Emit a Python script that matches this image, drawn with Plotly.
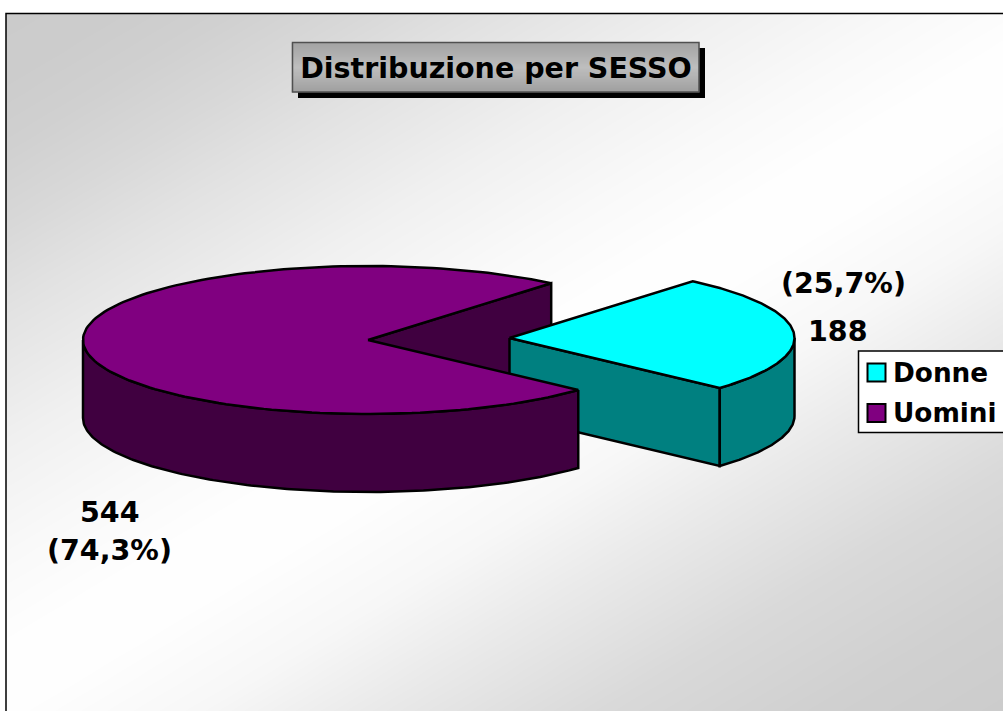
import numpy as np
import plotly.graph_objects as go

# ---- data ----
categories = ["Donne", "Uomini"]
values = [188, 544]
value_labels = ["188", "544"]
percent_labels = ["(25,7%)", "(74,3%)"]
title_text = "Distribuzione per SESSO"

# ---- style / layout constants (pixel-like axes) ----
W, H = 1003, 711
FONT = "DejaVu Sans"
RX, RY, DEPTH = 285, 74, 78
ROTATION = 40.0
CENTERS = {"Donne": (509.5, 338), "Uomini": (368, 340)}
TOPS = {"Donne": "#00FFFF", "Uomini": "#800080"}
SIDES = {"Donne": "#008080", "Uomini": "#400040"}
EDGE = 2.5

total = sum(values)
sweep = values[0] / total * 360.0
A0, A1 = ROTATION, ROTATION + sweep


def pt(name, deg, drop=0.0):
    cx, cy = CENTERS[name]
    r = np.radians(deg)
    return cx + RX * np.sin(r), cy - RY * np.cos(r) + drop


def arc(name, d0, d1, drop=0.0):
    th = np.linspace(d0, d1, 160)
    return pt(name, th, drop)


def poly(xs, ys, color, name=None):
    return go.Scatter(x=list(xs), y=list(ys), mode="lines", fill="toself", fillcolor=color,
                      line=dict(color="black", width=EDGE), hoverinfo="skip", showlegend=False,
                      name=name)


def cut_face(name, deg):
    cx, cy = CENTERS[name]
    ex, ey = pt(name, deg)
    return [cx, ex, ex, cx, cx], [cy, ey, ey + DEPTH, cy + DEPTH, cy]


def wall(name, d0, d1):
    xt, yt = arc(name, d0, d1)
    xb, yb = arc(name, d0, d1, DEPTH)
    return np.r_[xt, xb[::-1], xt[0]], np.r_[yt, yb[::-1], yt[0]]


def top(name, d0, d1):
    cx, cy = CENTERS[name]
    x, y = arc(name, d0, d1)
    return np.r_[cx, x, cx], np.r_[cy, y, cy]


fig = go.Figure()

# background gradient (diagonal, level = 0.6*x + y)
gx = np.linspace(6, 1100, 60)
gy = np.linspace(13, 800, 60)
X, Y = np.meshgrid(gx, gy)
Z = 0.6 * X + Y
ZMAX = 1400.0
bg_levels = [0, 80, 150, 230, 312, 445, 560, 650, 720, 830, 930, 1072, 1202, 1313, 1400]
bg_grays = [0xcb, 0xcc, 0xd0, 0xd8, 0xe2, 0xf0, 0xf9, 0xfe, 0xfe, 0xf7, 0xea, 0xd9, 0xd0, 0xcc, 0xcb]
bg_scale = [[lv / ZMAX, f"rgb({g},{g},{g})"] for lv, g in zip(bg_levels, bg_grays)]
fig.add_trace(go.Heatmap(x=gx, y=gy, z=Z, zmin=0, zmax=ZMAX, zsmooth="best", showscale=False,
                         hoverinfo="skip", colorscale=bg_scale))

# pie, back to front
fig.add_trace(poly(*cut_face("Uomini", A0), SIDES["Uomini"]))
fig.add_trace(poly(*cut_face("Donne", A1), SIDES["Donne"]))
fig.add_trace(poly(*wall("Donne", 90, A1), SIDES["Donne"]))
fig.add_trace(poly(*top("Donne", A0, A1), TOPS["Donne"], "Donne"))
fig.add_trace(poly(*wall("Uomini", A1, 270), SIDES["Uomini"]))
fig.add_trace(poly(*top("Uomini", A1, A0 + 360), TOPS["Uomini"], "Uomini"))

# title box: shadow, solid base, gradient strips, border
shapes = [
    dict(type="rect", x0=298, x1=705, y0=48, y1=98, fillcolor="black", line_width=0),
    dict(type="rect", x0=292, x1=699, y0=43, y1=92, fillcolor="#b0b0b0", line_width=0),
]
strip_grays = [0xa4, 0xb0, 0xbe, 0xb0, 0xa0]
for i in range(49):
    v = round(np.interp(i / 48 * 4, range(5), strip_grays))
    shapes.append(dict(type="rect", x0=292, x1=699, y0=43 + i, y1=44 + i,
                       fillcolor=f"rgb({v},{v},{v})", line=dict(color=f"rgb({v},{v},{v})", width=0.5)))
shapes += [
    dict(type="rect", x0=292.5, x1=699, y0=42.5, y1=92, line=dict(color="#505050", width=1.5)),
    dict(type="rect", x0=0, x1=6, y0=0, y1=H, fillcolor="white", line_width=0),
    dict(type="rect", x0=0, x1=W, y0=0, y1=13, fillcolor="white", line_width=0),
    dict(type="rect", x0=6, x1=W + 40, y0=13.5, y1=H + 40, line=dict(color="black", width=1.5)),
    # legend box and swatches
    dict(type="rect", x0=858.5, x1=W + 40, y0=351, y1=432.5, fillcolor="white",
         line=dict(color="black", width=1.5)),
]
swatch_y = [363.5, 404]
for name, y0 in zip(categories, swatch_y):
    shapes.append(dict(type="rect", x0=867.5, x1=885.5, y0=y0, y1=y0 + 18, fillcolor=TOPS[name],
                       line=dict(color="black", width=2)))

label_font = dict(family=FONT, size=28.5, color="black", weight=700)
anns = [
    dict(x=843, y=283, text=percent_labels[0], font=label_font, xanchor="center"),
    dict(x=838, y=331, text=value_labels[0], font=label_font, xanchor="center"),
    dict(x=110, y=512, text=value_labels[1], font=label_font, xanchor="center"),
    dict(x=109, y=550, text=percent_labels[1], font=label_font, xanchor="center"),
]
legend_font = dict(family=FONT, size=26.3, color="black", weight=700)
for name, y in zip(categories, [372.7, 412.7]):
    anns.append(dict(x=890.5, y=y, text=name, font=legend_font, xanchor="left"))
for a in anns:
    a.update(xref="x", yref="y", showarrow=False, yanchor="middle")

fig.update_layout(
    width=W, height=H, margin=dict(l=0, r=0, t=0, b=0), paper_bgcolor="white", plot_bgcolor="white",
    showlegend=False,
    xaxis=dict(range=[0, W], visible=False, fixedrange=True),
    yaxis=dict(range=[H, 0], visible=False, fixedrange=True),
    shapes=shapes, annotations=anns,
    title=dict(text=title_text, x=496 / W, y=1 - 68 / H, xanchor="center", yanchor="middle",
               xref="paper", yref="paper",
               font=dict(family=FONT, size=28.5, color="black", weight=700)),
)
fig.write_html("out.html", config={"displayModeBar": False},
               post_script="document.body.style.margin='0';document.body.style.overflow='hidden';")
